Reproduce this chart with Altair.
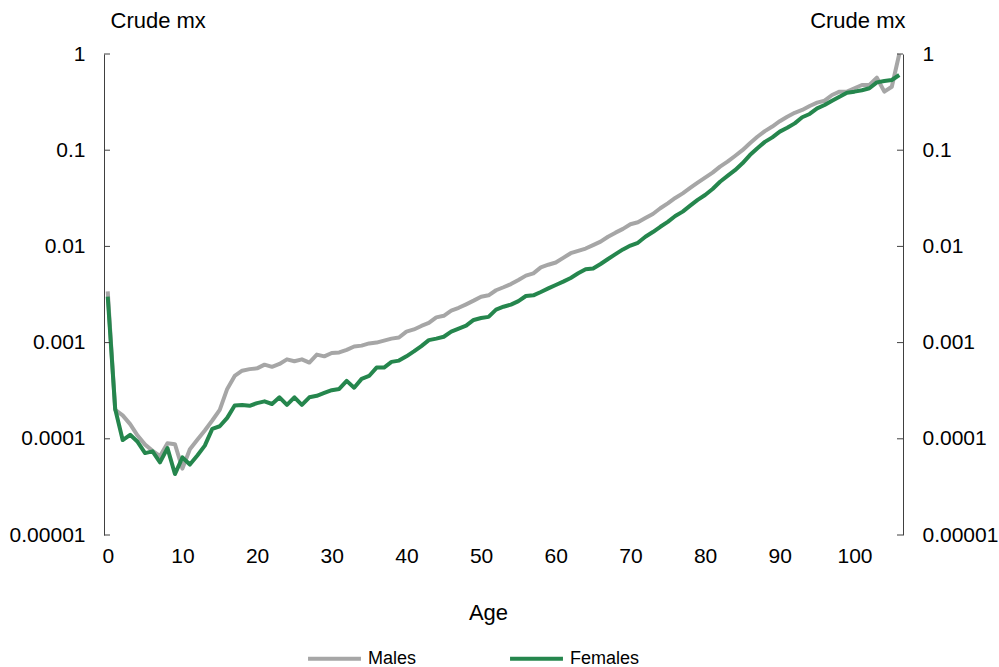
import altair as alt
import pandas as pd

ages = list(range(0, 107))

males = [
    0.0034, 0.0002, 0.000175, 0.000142, 0.000108, 0.000087, 0.000075, 0.000066, 0.00009, 0.000088,
    0.000049, 0.000078, 0.000098, 0.000122, 0.000155, 0.0002, 0.00033, 0.00045, 0.00051, 0.00053,
    0.00054, 0.00059, 0.00056, 0.0006, 0.00067, 0.00064, 0.00067, 0.00062, 0.00075, 0.00072,
    0.00078, 0.00079, 0.00084, 0.00091, 0.00093, 0.00098, 0.001, 0.00105, 0.0011, 0.00113,
    0.0013, 0.00137, 0.00149, 0.0016, 0.00183, 0.0019, 0.00215, 0.0023, 0.0025, 0.00273,
    0.003, 0.0031, 0.0035, 0.00376, 0.00406, 0.00448, 0.00497, 0.00525, 0.00606, 0.00645,
    0.0068, 0.0076, 0.0085, 0.009, 0.0095, 0.0103, 0.0112, 0.0126, 0.0139, 0.0152,
    0.017, 0.0178, 0.0197, 0.0217, 0.0249, 0.028, 0.0319, 0.0356, 0.0405, 0.046,
    0.0519, 0.0584, 0.0675, 0.076, 0.087, 0.1, 0.118, 0.138, 0.158, 0.176,
    0.2, 0.223, 0.245, 0.262, 0.288, 0.312, 0.327, 0.375, 0.406, 0.406,
    0.44, 0.476, 0.476, 0.567, 0.406, 0.457, 1.0,
]

females = [
    0.0030, 0.000204, 0.000097, 0.00011, 0.000093, 0.000071, 0.000074, 0.000057, 0.00008, 0.000043,
    0.000064, 0.000054, 0.000067, 0.000085, 0.000127, 0.000135, 0.000165, 0.000222, 0.000224, 0.00022,
    0.000235, 0.000245, 0.00023, 0.00027, 0.000225, 0.00027, 0.000225, 0.00027, 0.00028, 0.0003,
    0.00032, 0.00033, 0.0004, 0.00034, 0.00042, 0.00045, 0.00055, 0.00055, 0.00063, 0.00065,
    0.00072, 0.00081, 0.00092, 0.00106, 0.0011, 0.00115, 0.0013, 0.0014, 0.0015, 0.00172,
    0.0018, 0.00185, 0.0022, 0.00236, 0.00248, 0.0027, 0.00305, 0.0031, 0.00336, 0.00366,
    0.00397, 0.0043, 0.0047, 0.00525, 0.00578, 0.0059, 0.00656, 0.0074, 0.0083, 0.0093,
    0.0102, 0.0109, 0.0126, 0.0141, 0.016, 0.018, 0.0207, 0.023, 0.0265, 0.0304,
    0.0342, 0.0395, 0.047, 0.054, 0.062, 0.073, 0.089, 0.105, 0.122, 0.136,
    0.156, 0.171, 0.19, 0.22, 0.238, 0.272, 0.295, 0.327, 0.36, 0.396,
    0.406, 0.42, 0.44, 0.507, 0.524, 0.537, 0.605,
]

series = ["Males", "Females"]
colors = ["#a6a6a6", "#25864d"]
y_ticks = [0.00001, 0.0001, 0.001, 0.01, 0.1, 1]
x_ticks = [0, 10, 20, 30, 40, 50, 60, 70, 80, 90, 100]

df = pd.concat([
    pd.DataFrame({"age": ages, "mx": males, "sex": "Males"}),
    pd.DataFrame({"age": ages, "mx": females, "sex": "Females"}),
])
ticks_df = pd.DataFrame({"v": y_ticks})

W, H = 799, 481
FONT = "Liberation Sans"
AXC = "#404040"
LBL = 21
TTL = 22

yscale = alt.Scale(type="log", domain=[0.00001, 1])
xscale = alt.Scale(domain=[-0.5, 106.5], nice=False, zero=False)

left_axis = alt.Axis(
    orient="left", values=y_ticks, format=".5~f", ticks=False, grid=False,
    domainColor=AXC, domainWidth=1, labelFont=FONT, labelFontSize=LBL, labelColor="#000",
    labelPadding=19, title="Crude mx", titleAngle=0, titleAlign="left",
    titleBaseline="alphabetic", titleX=6, titleY=-27, titleFont=FONT,
    titleFontSize=TTL, titleFontWeight="normal", titleColor="#000",
)
right_axis = alt.Axis(
    orient="right", values=y_ticks, format=".5~f", ticks=False, grid=False,
    domainColor=AXC, domainWidth=1, labelFont=FONT, labelFontSize=LBL, labelColor="#000",
    labelPadding=19, title="Crude mx", titleAngle=0, titleAlign="right",
    titleBaseline="alphabetic", titleX=2, titleY=-27, titleFont=FONT,
    titleFontSize=TTL, titleFontWeight="normal", titleColor="#000",
)
x_axis = alt.Axis(
    values=x_ticks, ticks=False, grid=False, domain=False,
    labelFont=FONT, labelFontSize=LBL, labelColor="#000", labelPadding=10,
    title="Age", titleFont=FONT, titleFontSize=TTL, titleFontWeight="normal",
    titleColor="#000", titleX=384, titleY=77, titleBaseline="middle",
)

lines = alt.Chart(df).mark_line(strokeWidth=4, strokeJoin="round").encode(
    x=alt.X("age:Q", scale=xscale, axis=x_axis),
    y=alt.Y("mx:Q", scale=yscale, axis=left_axis),
    color=alt.Color(
        "sex:N",
        scale=alt.Scale(domain=series, range=colors),
        legend=alt.Legend(
            title=None, orient="none", direction="horizontal",
            legendX=202, legendY=576, symbolType="stroke", symbolSize=2800,
            symbolStrokeWidth=4, labelFont=FONT, labelFontSize=18, labelColor="#000",
            labelOffset=5, columnPadding=85, padding=0,
        ),
    ),
    order=alt.Order("age:Q"),
)

left_ticks = alt.Chart(ticks_df).mark_rule(color=AXC, strokeWidth=1).encode(
    y=alt.Y("v:Q", scale=yscale, axis=None),
    x=alt.value(0), x2=alt.value(6),
)
right_ticks = alt.Chart(ticks_df).mark_rule(color=AXC, strokeWidth=1).encode(
    y=alt.Y("v:Q", scale=yscale, axis=right_axis),
    x=alt.value(W - 6), x2=alt.value(W),
)

chart = alt.layer(lines, left_ticks, right_ticks).resolve_scale(
    y="independent"
).properties(
    width=W, height=H,
    autosize=alt.AutoSizeParams(type="none"),
    padding={"left": 104, "top": 54, "right": 96, "bottom": 132},
).configure_view(stroke=None)

chart.save("out.html", embed_options={"renderer": "svg", "actions": False})
